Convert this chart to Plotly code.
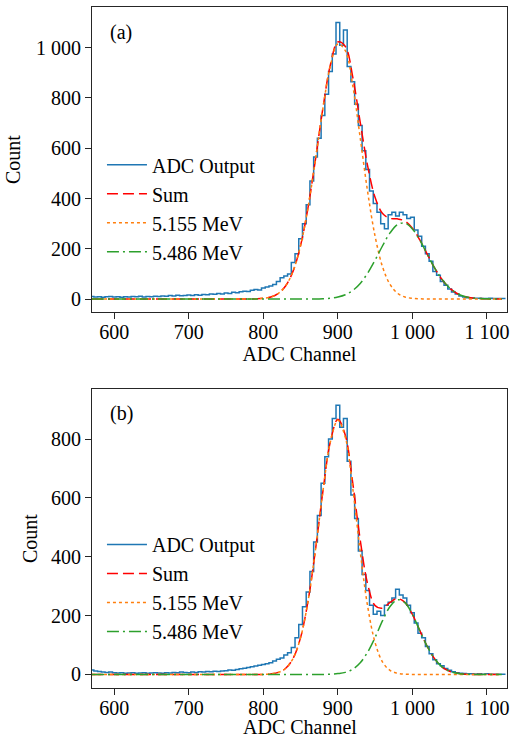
import plotly.graph_objects as go

# --- data ---
adc_channels = list(range(570, 1126, 5))
fit_channels = list(range(570, 1121, 10))

# (a)
adc_a = [10, 8, 9, 7, 9, 10,
         8, 9, 7, 9, 8, 10,
         9, 11, 8, 10, 9, 11,
         10, 12, 11, 14, 12, 15,
         13, 14, 16, 14, 17, 15,
         18, 17, 20, 19, 22, 20,
         24, 22, 27, 25, 29, 31,
         30, 35, 38, 36, 44, 48,
         52, 58, 70, 85, 92, 100,
         145, 180, 240, 300, 375, 470,
         565, 640, 730, 815, 905, 975,
         1100, 1010, 1070, 925, 865, 775,
         690, 590, 515, 430, 380, 345,
         300, 280, 335, 345, 330, 345,
         335, 320, 325, 275, 250, 210,
         180, 150, 110, 95, 70, 55,
         40, 28, 20, 12, 8, 5,
         4, 3, 3, 2, 2, 3,
         2, 2, 2, 2]
sum_a = [0] * 22 + [1, 3, 8, 22, 53, 112, 214, 365, 557, 761, 932, 1023, 1005,
                    883, 703, 529, 404, 340, 321, 319, 310, 282, 235, 178, 123,
                    77, 44, 22, 10, 4, 2, 1] + [0] * 2
p5155_a = [0] * 22 + [1, 3, 8, 22, 53, 112, 214, 365, 557, 760, 929, 1015, 988,
                      849, 641, 426, 249, 128, 58, 23, 8, 3, 1] + [0] * 11
p5486_a = [0] * 31 + [1, 3, 8, 17, 34, 62, 103, 155, 212, 263, 296, 302, 279,
                      234, 178, 123, 77, 44, 22, 10, 4, 2, 1] + [0] * 2

# (b)
adc_b = [15, 12, 10, 8, 7, 8,
         6, 5, 6, 4, 5, 6,
         4, 5, 6, 4, 5, 6,
         5, 4, 6, 5, 7, 6,
         8, 7, 6, 8, 7, 9,
         8, 10, 9, 11, 10, 12,
         13, 15, 14, 17, 19, 21,
         24, 26, 29, 31, 34, 36,
         40, 46, 52, 56, 66, 74,
         92, 125, 170, 230, 280, 350,
         450, 540, 650, 740, 800, 870,
         915, 840, 870, 725, 610, 530,
         420, 340, 285, 235, 205, 215,
         200, 235, 245, 260, 290, 270,
         260, 235, 210, 175, 140, 125,
         95, 70, 50, 36, 30, 20,
         14, 9, 6, 4, 3, 2,
         2, 1, 2, 1, 2, 1,
         1, 1, 1, 1]
sum_b = [0] * 24 + [2, 7, 21, 55, 126, 250, 425, 624, 792, 867, 813, 650, 457,
                    307, 234, 225, 245, 258, 245, 204, 149, 95, 53, 25, 11, 4,
                    1] + [0] * 5
p5155_b = [0] * 24 + [2, 7, 21, 55, 126, 250, 425, 624, 791, 864, 806, 632,
                      417, 231, 108, 42, 14, 4, 1] + [0] * 13
p5486_b = [0] * 32 + [1, 3, 7, 18, 40, 76, 126, 183, 231, 254, 244, 204, 149,
                      95, 53, 25, 11, 4, 1] + [0] * 5

FONT = "Liberation Serif, Times New Roman, serif"
BLUE, RED, ORANGE, GREEN = "#1f77b4", "#ff0000", "#ff7f0e", "#2ca02c"

fig = go.Figure()

panels = [
    ("x", "y", "legend", adc_a, sum_a, p5155_a, p5486_a),
    ("x2", "y2", "legend2", adc_b, sum_b, p5155_b, p5486_b),
]
for xa, ya, leg, adc, fsum, p1, p2 in panels:
    fig.add_trace(go.Scatter(x=adc_channels, y=adc, mode="lines", name="ADC Output",
                             line=dict(color=BLUE, width=1.5, shape="hvh"),
                             xaxis=xa, yaxis=ya, legend=leg))
    fig.add_trace(go.Scatter(x=fit_channels, y=fsum, mode="lines", name="Sum",
                             line=dict(color=RED, width=1.5, dash="11px,5px", shape="spline"),
                             xaxis=xa, yaxis=ya, legend=leg))
    fig.add_trace(go.Scatter(x=fit_channels, y=p1, mode="lines", name="5.155 MeV",
                             line=dict(color=ORANGE, width=1.5, dash="3px,3px", shape="spline"),
                             xaxis=xa, yaxis=ya, legend=leg))
    fig.add_trace(go.Scatter(x=fit_channels, y=p2, mode="lines", name="5.486 MeV",
                             line=dict(color=GREEN, width=1.5, dash="12px,4px,2px,4px", shape="spline"),
                             xaxis=xa, yaxis=ya, legend=leg))

axis_style = dict(showline=True, mirror=True, linecolor="#262626", linewidth=1,
                  ticks="outside", ticklen=6, tickwidth=1, tickcolor="#262626",
                  showgrid=False, zeroline=False, tickformat=",d", automargin=False,
                  tickfont=dict(size=20, color="black"))
x_style = dict(axis_style, ticklabelstandoff=-4, range=[570, 1127], dtick=100, tick0=600)
y_style = dict(axis_style, dtick=200)

fig.update_layout(
    template="none",
    width=512, height=735,
    margin=dict(l=92, r=5, t=7, b=47),
    paper_bgcolor="white", plot_bgcolor="white",
    font=dict(family=FONT, size=20, color="black"),
    separators=". ",
    showlegend=True,
    xaxis=dict(domain=[0, 1], anchor="y",
               title=dict(text="ADC Channel", font=dict(size=20), standoff=0), **x_style),
    yaxis=dict(domain=[0.552, 1.0], anchor="x", range=[-52, 1162],
               title=dict(text="Count", font=dict(size=20), standoff=9), **y_style),
    # bottom x title is set as an annotation below, the margin would clamp it
    xaxis2=dict(domain=[0, 1], anchor="y2", **x_style),
    yaxis2=dict(domain=[0, 0.439], anchor="x2", range=[-46, 970],
                title=dict(text="Count", font=dict(size=20), standoff=7), **y_style),
    legend=dict(x=0.024, y=0.797, xanchor="left", yanchor="top", bgcolor="rgba(0,0,0,0)",
                font=dict(size=20), itemwidth=40, tracegroupgap=0),
    legend2=dict(x=0.024, y=0.2395, xanchor="left", yanchor="top", bgcolor="rgba(0,0,0,0)",
                 font=dict(size=20), itemwidth=40, tracegroupgap=0),
    annotations=[
        dict(text="(a)", xref="x domain", yref="y domain", x=0.07, y=0.918,
             xanchor="center", yanchor="middle", showarrow=False, font=dict(size=20)),
        dict(text="(b)", xref="x2 domain", yref="y2 domain", x=0.07, y=0.919,
             xanchor="center", yanchor="middle", showarrow=False, font=dict(size=20)),
        dict(text="ADC Channel", xref="x2 domain", yref="paper", x=0.5, y=-0.0575,
             xanchor="center", yanchor="middle", showarrow=False, font=dict(size=20)),
    ],
)

# drop the default 8px page margin so the figure sits at the window origin
fig.write_html("out.html", config={"displayModeBar": False},
               post_script="document.body.style.margin='0';"
                           "document.body.style.overflow='hidden';")
